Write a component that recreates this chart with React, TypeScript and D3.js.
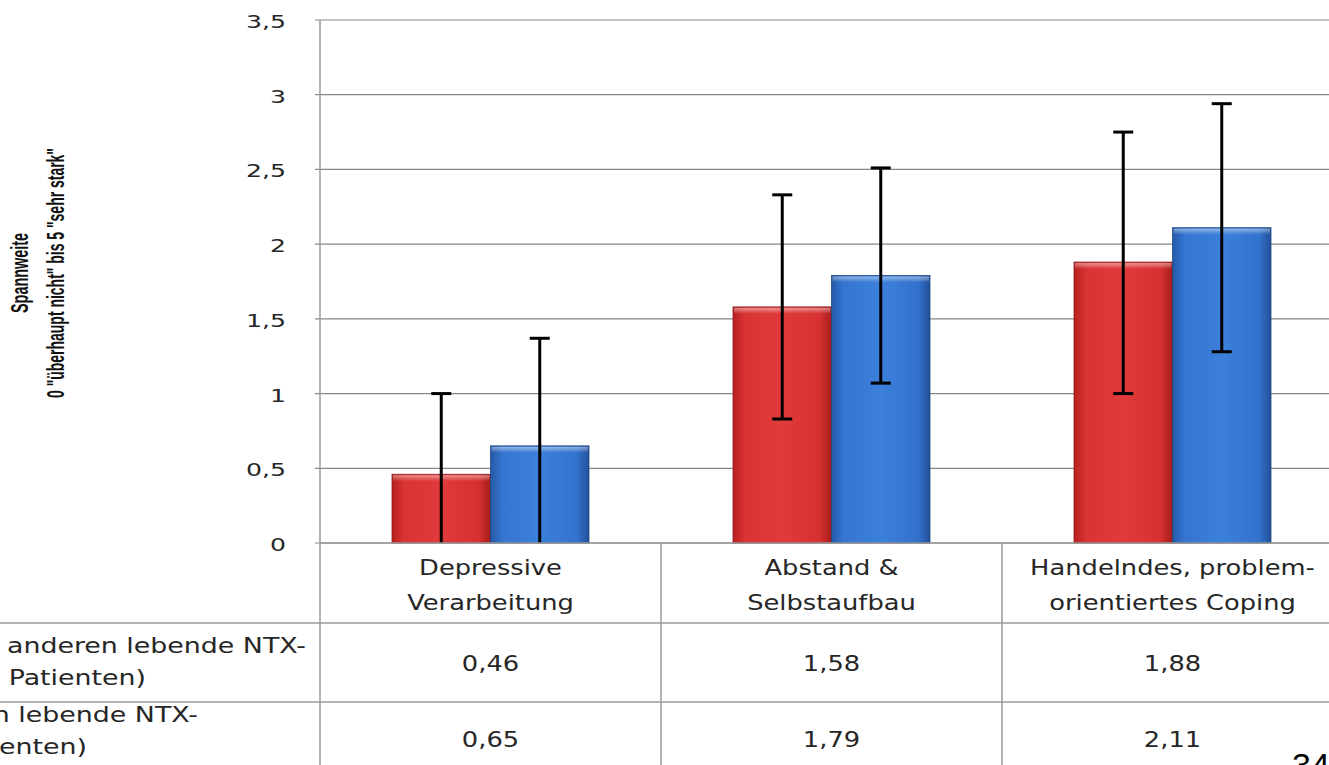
import React from "react";
import * as d3 from "d3";

const categories = [
  ["Depressive", "Verarbeitung"],
  ["Abstand &", "Selbstaufbau"],
  ["Handelndes, problem-", "orientiertes Coping"],
];
const seriesNames = ["Mit anderen lebende NTX-Patienten", "Allein lebende NTX-Patienten"];
const seriesA = [0.46, 1.58, 1.88];
const seriesB = [0.65, 1.79, 2.11];
const errA: [number, number][] = [[0, 1.0], [0.83, 2.33], [1.0, 2.75]];
const errB: [number, number][] = [[0, 1.37], [1.07, 2.51], [1.28, 2.94]];
const labelsA = ["0,46", "1,58", "1,88"];
const labelsB = ["0,65", "1,79", "2,11"];
const yTicks = [0, 0.5, 1, 1.5, 2, 2.5, 3, 3.5];
const rowLabelA = ["(Mit  anderen lebende NTX-", "Patienten)"];
const rowLabelB = ["(Allein lebende NTX-", "Patienten)"];

const W = 1329;
const H = 765;
const plotLeft = 320;
const plotRight = 1343;
const plotTop = 20;
const zeroY = 543;
const row1 = 623;
const row2 = 702;

const fontTable = "'DejaVu Sans', Verdana, sans-serif";
const tableSize = 22;
const tableSx = 1.17;
const rowSx = 1.22;
const tickSize = 18;
const tickSx = 1.4;

function SText({
  x,
  y,
  anchor,
  size,
  sx,
  children,
}: {
  x: number;
  y: number;
  anchor: "start" | "middle" | "end";
  size: number;
  sx: number;
  children: React.ReactNode;
}) {
  return (
    <g transform={`translate(${x},${y}) scale(${sx},1)`}>
      <text x={0} y={0} textAnchor={anchor} fontFamily={fontTable} fontSize={size} fill="#262626" style={{ whiteSpace: "pre" }}>
        {children}
      </text>
    </g>
  );
}

export default function App() {
  const idx = categories.map((_, i) => String(i));
  const x0 = d3.scaleBand<string>().domain(idx).range([plotLeft, plotRight]).padding(0);
  const y = d3.scaleLinear().domain([0, 3.5]).range([zeroY, plotTop]);
  const bw = x0.bandwidth();
  const groupPad = 72;
  const x1 = d3
    .scaleBand<string>()
    .domain(["a", "b"])
    .range([groupPad, bw - groupPad])
    .padding(0);
  const series = [
    { key: "a", vals: seriesA, err: errA, grad: "gradRed", stroke: "#8e1b1b" },
    { key: "b", vals: seriesB, err: errB, grad: "gradBlue", stroke: "#1d4680" },
  ];
  const tickFmt = (v: number) => String(v).replace(".", ",");
  const grid = "#878787";
  const tbl = "#9a9a9a";

  return (
    <svg
      width={W}
      height={H}
      viewBox={`0 0 ${W} ${H}`}
      style={{ position: "absolute", left: 0, top: 0, background: "#fff" }}
    >
      <defs>
        <linearGradient id="gradRed" x1="0" x2="1" y1="0" y2="0">
          <stop offset="0" stopColor="#b71f1f" />
          <stop offset="0.12" stopColor="#d93333" />
          <stop offset="0.5" stopColor="#e03a3a" />
          <stop offset="0.88" stopColor="#d63030" />
          <stop offset="1" stopColor="#a81c1c" />
        </linearGradient>
        <linearGradient id="gradBlue" x1="0" x2="1" y1="0" y2="0">
          <stop offset="0" stopColor="#2559a8" />
          <stop offset="0.12" stopColor="#3475d0" />
          <stop offset="0.5" stopColor="#3c80dc" />
          <stop offset="0.88" stopColor="#3272cc" />
          <stop offset="1" stopColor="#22509a" />
        </linearGradient>
        <linearGradient id="topHi" x1="0" x2="0" y1="0" y2="1">
          <stop offset="0" stopColor="#fff" stopOpacity="0.45" />
          <stop offset="1" stopColor="#fff" stopOpacity="0" />
        </linearGradient>
      </defs>

      {/* grid lines + ticks */}
      {yTicks.map((t) => (
        <g key={t}>
          <line x1={plotLeft - 5} x2={W} y1={y(t)} y2={y(t)} stroke={grid} strokeWidth={1.2} />
          <SText x={286} y={y(t) + 8} anchor="end" size={tickSize} sx={tickSx}>
            {tickFmt(t)}
          </SText>
        </g>
      ))}

      {/* bars */}
      {series.map((s) =>
        s.vals.map((v, i) => {
          const bx = (x0(String(i)) as number) + (x1(s.key) as number);
          const w = x1.bandwidth();
          return (
            <g key={s.key + i}>
              <rect x={bx} y={y(v)} width={w} height={zeroY - y(v)} fill={`url(#${s.grad})`} stroke={s.stroke} strokeWidth={0.8} />
              <rect x={bx + 1} y={y(v) + 1} width={w - 2} height={6} fill="url(#topHi)" />
            </g>
          );
        })
      )}

      {/* error bars */}
      {series.map((s) =>
        s.err.map((e, i) => {
          const cx = (x0(String(i)) as number) + (x1(s.key) as number) + x1.bandwidth() / 2;
          return (
            <g key={"e" + s.key + i} stroke="#000" strokeWidth={3}>
              <line x1={cx} x2={cx} y1={y(e[0])} y2={y(e[1])} />
              <line x1={cx - 10} x2={cx + 10} y1={y(e[1])} y2={y(e[1])} />
              {e[0] > 0 && <line x1={cx - 10} x2={cx + 10} y1={y(e[0])} y2={y(e[0])} />}
            </g>
          );
        })
      )}

      {/* table lines */}
      <line x1={plotLeft} x2={plotLeft} y1={plotTop} y2={H} stroke={tbl} strokeWidth={1.5} />
      <line x1={plotLeft} x2={W} y1={zeroY} y2={zeroY} stroke={tbl} strokeWidth={1.5} />
      <line x1={0} x2={W} y1={row1} y2={row1} stroke={tbl} strokeWidth={1.5} />
      <line x1={0} x2={W} y1={row2} y2={row2} stroke={tbl} strokeWidth={1.5} />
      {idx.slice(1).map((k) => (
        <line key={k} x1={x0(k)} x2={x0(k)} y1={zeroY} y2={H} stroke={tbl} strokeWidth={1.5} />
      ))}

      {/* category labels */}
      {categories.map((c, i) => {
        const cx = (x0(String(i)) as number) + bw / 2;
        return (
          <g key={"c" + i}>
            <SText x={cx} y={575} anchor="middle" size={tableSize} sx={tableSx}>{c[0]}</SText>
            <SText x={cx} y={610} anchor="middle" size={tableSize} sx={tableSx}>{c[1]}</SText>
          </g>
        );
      })}

      {/* values */}
      {[labelsA, labelsB].map((row, r) =>
        row.map((lab, i) => {
          const cx = (x0(String(i)) as number) + bw / 2;
          return (
            <SText key={"v" + r + i} x={cx} y={r === 0 ? 671 : 747} anchor="middle" size={tableSize} sx={tableSx}>
              {lab}
            </SText>
          );
        })
      )}

      {/* row labels (cut off at the left edge as in the reference) */}
      <SText x={306} y={653} anchor="end" size={tableSize} sx={rowSx}>{rowLabelA[0]}</SText>
      <SText x={146} y={685} anchor="end" size={tableSize} sx={rowSx}>{rowLabelA[1]}</SText>
      <SText x={198} y={722} anchor="end" size={tableSize} sx={rowSx}>{rowLabelB[0]}</SText>
      <SText x={87} y={754} anchor="end" size={tableSize} sx={rowSx}>{rowLabelB[1]}</SText>
      <title>{seriesNames.join(" / ")}</title>

      {/* axis title */}
      <g transform="translate(28,273) rotate(-90)">
        <text
          x={0}
          y={0}
          textAnchor="middle"
          fontFamily="'Liberation Sans Narrow', 'Liberation Sans', Arial, sans-serif"
          fontWeight="bold"
          fontSize={23}
          fill="#111"
          textLength={80}
          lengthAdjust="spacingAndGlyphs"
        >
          Spannweite
        </text>
        <text
          x={0}
          y={36}
          textAnchor="middle"
          fontFamily="'Liberation Sans Narrow', 'Liberation Sans', Arial, sans-serif"
          fontWeight="bold"
          fontSize={23}
          fill="#111"
          textLength={250}
          lengthAdjust="spacingAndGlyphs"
        >
          0 "überhaupt nicht" bis 5 "sehr stark"
        </text>
      </g>

      {/* page number */}
      <text x={1292} y={777} fontFamily="'Liberation Sans', Arial, sans-serif" fontSize={34} fill="#000">
        34
      </text>
    </svg>
  );
}
